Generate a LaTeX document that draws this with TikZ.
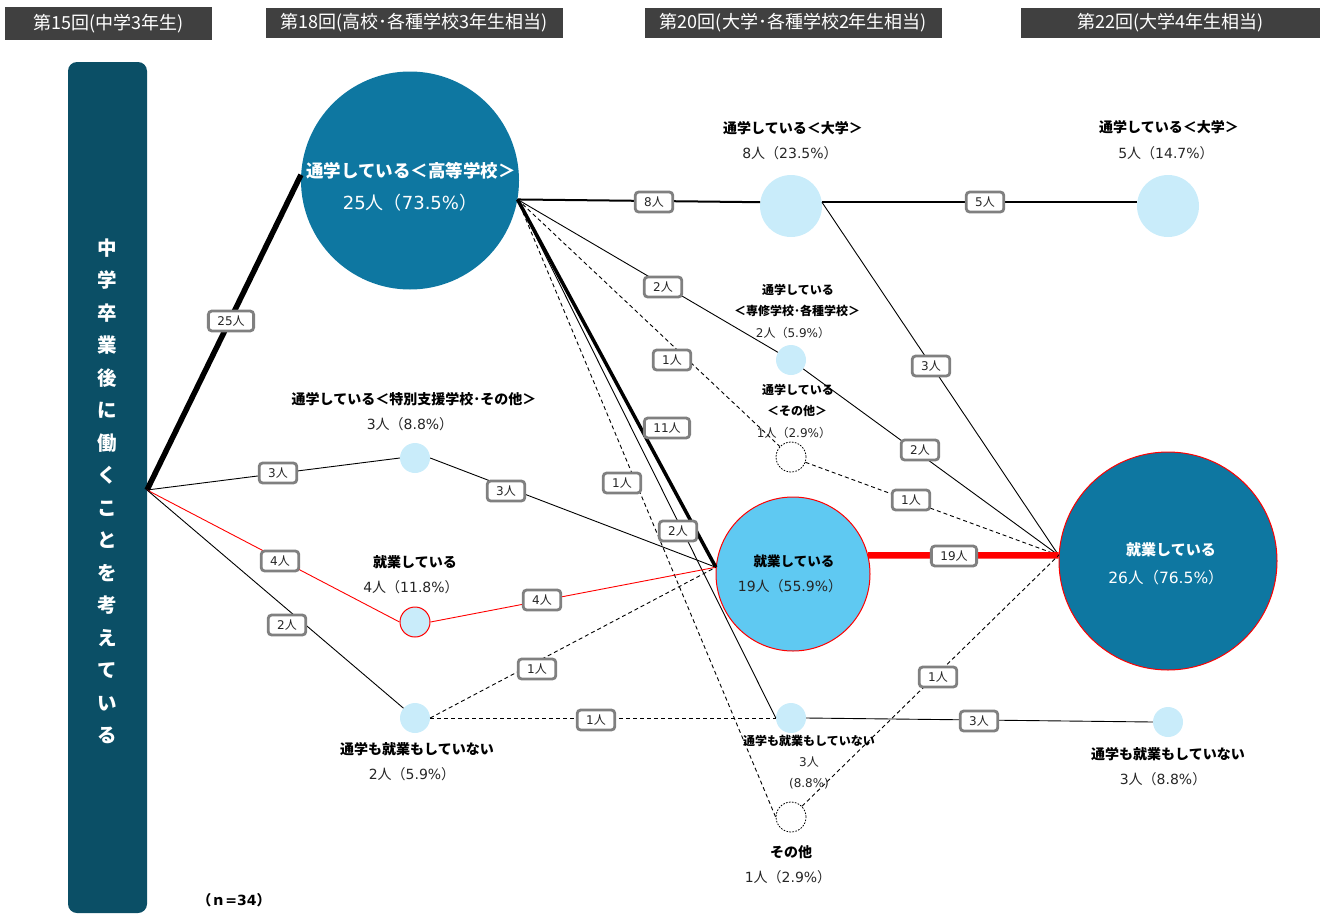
\documentclass[tikz,border=0pt]{standalone}
\usepackage{fontspec}
\setmainfont{Noto Sans CJK JP}
\newfontfamily\dvfont{DejaVu Sans}
\newcommand{\dg}[1]{{\dvfont #1}}
\usetikzlibrary{calc}
\definecolor{hdr}{RGB}{64,64,64}
\definecolor{barteal}{RGB}{11,79,102}
\definecolor{deep}{RGB}{14,119,161}
\definecolor{pale}{RGB}{201,236,250}
\definecolor{sky}{RGB}{95,201,242}
\definecolor{tagline}{RGB}{128,128,128}
\definecolor{ink}{RGB}{38,38,38}
\begin{document}
\begin{tikzpicture}[x=1pt,y=-1pt,
  fz/.style={font=\fontsize{#1}{#1}\selectfont},
  fzb/.style={font=\fontsize{#1}{#1}\selectfont\bfseries},
  hdrbox/.style={fill=hdr,text=white,fz=18,minimum height=30pt,inner sep=0pt},
  dot/.style={circle,inner sep=0pt,minimum size=#1},
  smallc/.style={dot=30pt,fill=pale},
  othc/.style={dot=30pt,draw=black,line width=0.8pt,dash pattern=on 1.6pt off 1.4pt,fill=white},
  tag/.style={draw=tagline,line width=2.8pt,fill=white,rounded corners=3.5pt,fz=12,text=ink,
    inner xsep=9pt,inner ysep=0pt,minimum height=20pt},
  lab/.style={fzb=14,text=black,inner sep=0pt},
  num/.style={fz=14,text=ink,inner sep=0pt},
  labs/.style={fzb=12,text=black,inner sep=0pt},
  nums/.style={fz=12,text=ink,inner sep=0pt},
  flowA/.style={line width=5.5pt,black},
  flowB/.style={line width=3.5pt,black},
  flowC/.style={line width=2pt,black},
  flowR/.style={line width=6.5pt,red},
  flowthin/.style={line width=0.9pt,black},
  flowred/.style={line width=0.9pt,red},
  flowdash/.style={line width=0.9pt,black,dash pattern=on 4pt off 3pt},
]
\useasboundingbox (0,0) rectangle (1325,913);

% column headers
\node[hdrbox,minimum width=207pt,minimum height=33pt] (h15) at (108.5,23.5) {第15回(中学3年生)};
\node[hdrbox,minimum width=297pt] (h18) at (414.5,23) {第18回(高校･各種学校3年生相当)};
\node[hdrbox,minimum width=297pt] (h20) at (793.5,23) {第20回(大学･各種学校2年生相当)};
\node[hdrbox,minimum width=299pt] (h22) at (1170.5,23) {第22回(大学4年生相当)};

% starting group bar
\node[fill=barteal,rounded corners=9pt,minimum width=79pt,minimum height=851pt,inner sep=0pt] (bar) at (107.5,487.5) {};
\node[font=\fontsize{19.5}{32.5}\selectfont\bfseries,text=white,align=center,inner sep=0pt] (bartext) at (107,491.5)
  {中\\学\\卒\\業\\後\\に\\働\\く\\こ\\と\\を\\考\\え\\て\\い\\る};
\coordinate (src) at (147,490);

% circles
\node[dot=218pt,fill=deep] (hs) at (410,180.5) {};
\node[smallc] (t18) at (415,458) {};
\node[smallc,draw=red,line width=1pt] (e18) at (415,622) {};
\node[smallc] (n18) at (415,718) {};
\node[dot=62pt,fill=pale] (u20) at (791,206) {};
\node[smallc] (s20) at (791,360) {};
\node[othc] (x20) at (791,457) {};
\node[dot=154pt,fill=sky,draw=red,line width=1pt] (e20) at (793,574) {};
\node[smallc] (n20) at (791,718) {};
\node[othc] (o20) at (791,817) {};
\node[dot=62pt,fill=pale] (u22) at (1168,206) {};
\node[dot=218pt,fill=deep,draw=red,line width=1pt] (e22) at (1168,561) {};
\node[smallc] (n22) at (1168,722) {};

\coordinate (hsout) at (hs.-10);
\coordinate (e20in) at (e20.175);
\coordinate (e22in) at (e22.177);

% flows: 15 -> 18
\draw[flowA] (src) -- (hs.177);
\draw[flowthin] (src) -- (t18.west);
\draw[flowred] (src) -- (e18.west);
\draw[flowthin] (src) -- (n18);
% flows: 18 -> 20
\draw[flowC] (hsout) -- (u20.173);
\draw[flowthin] (hsout) -- (s20);
\draw[flowdash] (hsout) -- (x20);
\draw[flowB] (hsout) -- (e20in);
\draw[flowthin] (hsout) -- (n20.west);
\draw[flowdash] (hsout) -- (o20.west);
\draw[flowthin] (t18.east) -- (e20in);
\draw[flowred] (e18.east) -- (e20in);
\draw[flowdash] (n18.east) -- (e20in);
\draw[flowdash] (n18.east) -- (n20.west);
% flows: 20 -> 22
\draw[flowC] (u20.7) -- (u22.173);
\draw[flowthin] (u20.7) -- (e22in);
\draw[flowthin] (s20) -- (e22in);
\draw[flowdash] (x20) -- (e22in);
\draw[flowR] (e20.14) -- (e22in);
\draw[flowthin] (n20.east) -- (n22.west);
\draw[flowdash] (o20) -- (e22in);

% flow counts
\node[tag] (c1) at (231,321) {\dg{25}人};
\node[tag] (c2) at (278,473) {\dg{3}人};
\node[tag] (c3) at (280,561) {\dg{4}人};
\node[tag] (c4) at (287,625) {\dg{2}人};
\node[tag] (c5) at (654,202) {\dg{8}人};
\node[tag] (c6) at (663,287) {\dg{2}人};
\node[tag] (c7) at (672,360) {\dg{1}人};
\node[tag] (c8) at (667,428) {\dg{11}人};
\node[tag] (c9) at (622,483) {\dg{1}人};
\node[tag] (c10) at (678,531) {\dg{2}人};
\node[tag] (c11) at (506,491) {\dg{3}人};
\node[tag] (c12) at (542,600) {\dg{4}人};
\node[tag] (c13) at (537,669) {\dg{1}人};
\node[tag] (c14) at (596,720) {\dg{1}人};
\node[tag] (c15) at (985,202) {\dg{5}人};
\node[tag] (c16) at (931,366) {\dg{3}人};
\node[tag] (c17) at (920,450) {\dg{2}人};
\node[tag] (c18) at (911,500) {\dg{1}人};
\node[tag] (c19) at (954,556) {\dg{19}人};
\node[tag] (c20) at (979,721) {\dg{3}人};
\node[tag] (c21) at (938,677) {\dg{1}人};

% texts: 18th survey
\node[fzb=17.5,text=white,inner sep=0pt] (hsl) at (411,171) {通学している＜高等学校＞};
\node[fz=18,text=white,inner sep=0pt] (hsn) at (410,203) {\dg{25}人（\dg{73.5\%}）};
\node[lab] (t18l) at (414,399) {通学している＜特別支援学校･その他＞};
\node[num] (t18n) at (410,424) {\dg{3}人（\dg{8.8\%}）};
\node[lab] (e18l) at (415,562) {就業している};
\node[num] (e18n) at (411,587) {\dg{4}人（\dg{11.8\%}）};
\node[lab] (n18l) at (417,749) {通学も就業もしていない};
\node[num] (n18n) at (412,774) {\dg{2}人（\dg{5.9\%}）};

% texts: 20th survey
\node[lab] (u20l) at (793,128) {通学している＜大学＞};
\node[num] (u20n) at (790,153) {\dg{8}人（\dg{23.5\%}）};
\node[labs] (s20l1) at (798,290) {通学している};
\node[labs] (s20l2) at (797,311) {＜専修学校･各種学校＞};
\node[nums] (s20n) at (793,333) {\dg{2}人（\dg{5.9\%}）};
\node[labs] (x20l1) at (798,390) {通学している};
\node[labs] (x20l2) at (797,411) {＜その他＞};
\node[nums] (x20n) at (794,433) {\dg{1}人（\dg{2.9\%}）};
\node[fzb=13.5,text=black,inner sep=0pt] (e20l) at (794,561) {就業している};
\node[num] (e20n) at (790,586) {\dg{19}人（\dg{55.9\%}）};
\node[labs] (n20l) at (809,741) {通学も就業もしていない};
\node[nums] (n20n1) at (809,762) {\dg{3}人};
\node[nums] (n20n2) at (809,784) {\dg{(8.8\%)}};
\node[lab] (o20l) at (791,852) {その他};
\node[num] (o20n) at (788,877) {\dg{1}人（\dg{2.9\%}）};

% texts: 22nd survey
\node[lab] (u22l) at (1169,127) {通学している＜大学＞};
\node[num] (u22n) at (1166,153) {\dg{5}人（\dg{14.7\%}）};
\node[fzb=15,text=white,inner sep=0pt] (e22l) at (1171,550) {就業している};
\node[fz=15.5,text=white,inner sep=0pt] (e22n) at (1166,578) {\dg{26}人（\dg{76.5\%}）};
\node[lab] (n22l) at (1168,754) {通学も就業もしていない};
\node[num] (n22n) at (1163,779) {\dg{3}人（\dg{8.8\%}）};

\node[lab] (total) at (234,900) {（ｎ\dg{=34}）};
\end{tikzpicture}
\end{document}
